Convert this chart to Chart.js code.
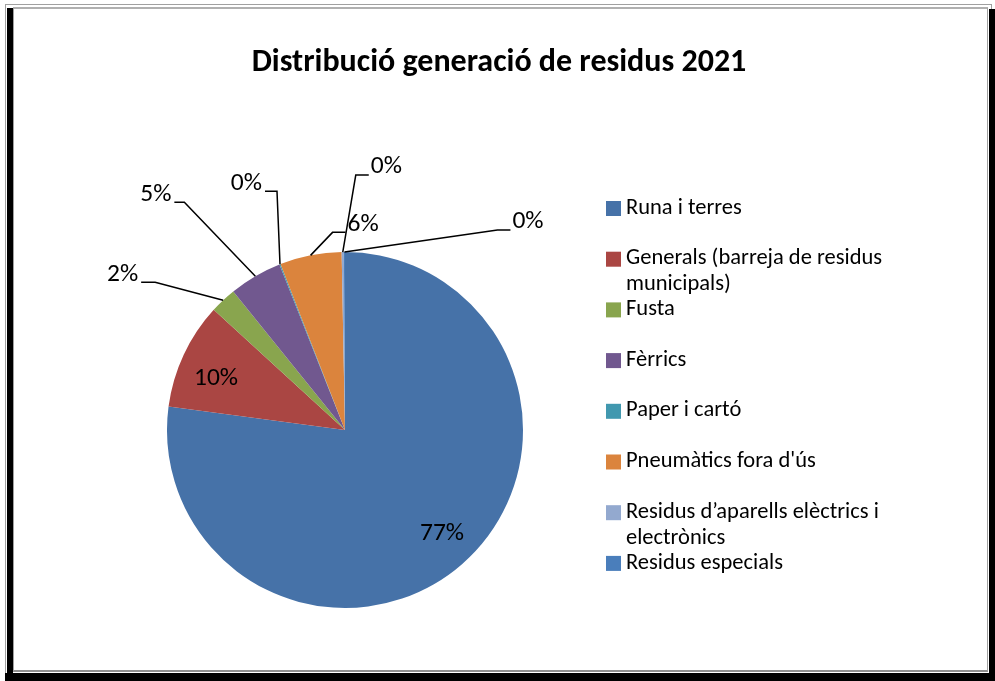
<!DOCTYPE html>
<html>
<head>
<meta charset="utf-8">
<title>Distribució generació de residus 2021</title>
<script src="https://cdn.jsdelivr.net/npm/chart.js@4"></script>
<style>
  body { margin: 0; background: #fff; }
  #wrap { position: relative; width: 995px; height: 681px; overflow: hidden; }
  .frame { position: absolute; }
  #canvasChart { position: absolute; left: 0; top: 0; }
</style>
</head>
<body>
<div id="wrap">
  <!-- picture frame: gray outline with a black shadow on left, right and bottom -->
  <div class="frame" style="left:5px; top:4px; width:985px; height:669px; border:1px solid #a0a0a0;"></div>
  <div class="frame" style="left:7px; top:8px; width:6px; height:673px; background:#000;"></div>
  <div class="frame" style="left:989px; top:9px; width:6px; height:672px; background:#000;"></div>
  <div class="frame" style="left:5px; top:673px; width:990px; height:8px; background:#000;"></div>
  <div class="frame" style="left:13px; top:7px; width:975px; height:665px; border-top:2px solid #b0b0b0; border-left:1px solid #a0a0a0; border-right:1px solid #a0a0a0; border-bottom:2px solid #909090; box-sizing:border-box;"></div>
  <canvas id="canvasChart" width="995" height="681"></canvas>
</div>
<script>
const chartTitle = 'Distribució generació de residus 2021';
const categories = [
  'Runa i terres',
  'Generals (barreja de residus municipals)',
  'Fusta',
  'Fèrrics',
  'Paper i cartó',
  'Pneumàtics fora d\'ús',
  'Residus d’aparells elèctrics i electrònics',
  'Residus especials'
];
const shares = [77.1, 9.7, 2.4, 4.8, 0.1, 5.6, 0.2, 0.1];
const sliceColors = ['#4672A8', '#AA4643', '#89A54E', '#71588F', '#4198AF', '#DB843D', '#93A9CF', '#4A7EBB'];

// where each percentage label sits: inside the slice (offset from the pie centre),
// or outside with a leader line (elbow and end offsets from the point on the rim)
const labelPlacement = [
  { inside: true, dx: 97, dy: 104 },
  { inside: true, dx: -129, dy: -51 },
  { elbow: [-68, -18], end: [-82, -18], align: 'right' },
  { elbow: [-71, -74], end: [-81, -74], align: 'right' },
  { elbow: [-3, -73], end: [-15, -73], align: 'right' },
  { elbow: [22, -23], end: [35, -23], align: 'left' },
  { elbow: [13, -77], end: [26, -77], align: 'left' },
  { elbow: [153, -22], end: [166, -22], align: 'left' }
];

const FONT = 'Carlito, Lato, "Open Sans", sans-serif';

const frameText = {
  id: 'frameText',
  afterDraw(chart) {
    const ctx = chart.ctx;
    const meta = chart.getDatasetMeta(0);
    const values = chart.data.datasets[0].data;
    const total = values.reduce((a, b) => a + b, 0);

    ctx.save();
    // title
    ctx.fillStyle = '#000';
    ctx.font = 'bold 32px ' + FONT;
    ctx.textAlign = 'center';
    ctx.textBaseline = 'alphabetic';
    ctx.fillText(chartTitle, 499, 71);

    // percentage labels
    ctx.font = '25.5px ' + FONT;
    ctx.strokeStyle = '#000';
    ctx.lineWidth = 1.5;
    meta.data.forEach((arc, i) => {
      const p = arc.getProps(['x', 'y', 'startAngle', 'endAngle', 'outerRadius'], true);
      const mid = (p.startAngle + p.endAngle) / 2;
      const rx = p.x + Math.cos(mid) * p.outerRadius;
      const ry = p.y + Math.sin(mid) * p.outerRadius;
      const txt = Math.round(values[i] / total * 100) + '%';
      const place = labelPlacement[i];
      if (place.inside) {
        ctx.textAlign = 'center';
        ctx.textBaseline = 'middle';
        ctx.fillText(txt, p.x + place.dx, p.y + place.dy);
        return;
      }
      const ex = rx + place.elbow[0], ey = ry + place.elbow[1];
      const tx = rx + place.end[0], ty = ry + place.end[1];
      ctx.beginPath();
      ctx.moveTo(rx, ry);
      ctx.lineTo(ex, ey);
      ctx.lineTo(tx, ty);
      ctx.stroke();
      ctx.textAlign = place.align;
      ctx.textBaseline = 'middle';
      const gap = place.align === 'left' ? 2 : -3;
      ctx.fillText(txt, tx + gap, ty - 8);
    });

    // legend
    ctx.font = '22.5px ' + FONT;
    ctx.textAlign = 'left';
    ctx.textBaseline = 'middle';
    const colors = chart.data.datasets[0].backgroundColor;
    chart.data.labels.forEach((label, i) => {
      const y = 208 + i * 50.7;
      ctx.fillStyle = colors[i];
      ctx.fillRect(606, y - 7, 15, 15);
      ctx.fillStyle = '#000';
      // wrap long names onto a second line
      const words = label.split(' ');
      const lines = [];
      let line = '';
      words.forEach(w => {
        const test = line ? line + ' ' + w : w;
        if (ctx.measureText(test).width > 275 && line) {
          lines.push(line);
          line = w;
        } else {
          line = test;
        }
      });
      lines.push(line);
      lines.forEach((l, k) => ctx.fillText(l, 626, y + k * 26));
    });
    ctx.restore();
  }
};

new Chart(document.getElementById('canvasChart'), {
  type: 'pie',
  data: {
    labels: categories,
    datasets: [{
      data: shares,
      backgroundColor: sliceColors,
      borderWidth: 0
    }]
  },
  options: {
    responsive: false,
    animation: false,
    devicePixelRatio: 1,
    layout: { padding: { left: 167, right: 472, top: 252, bottom: 73 } },
    plugins: {
      legend: { display: false },
      title: { display: false },
      tooltip: { enabled: false }
    }
  },
  plugins: [frameText]
});
</script>
</body>
</html>
